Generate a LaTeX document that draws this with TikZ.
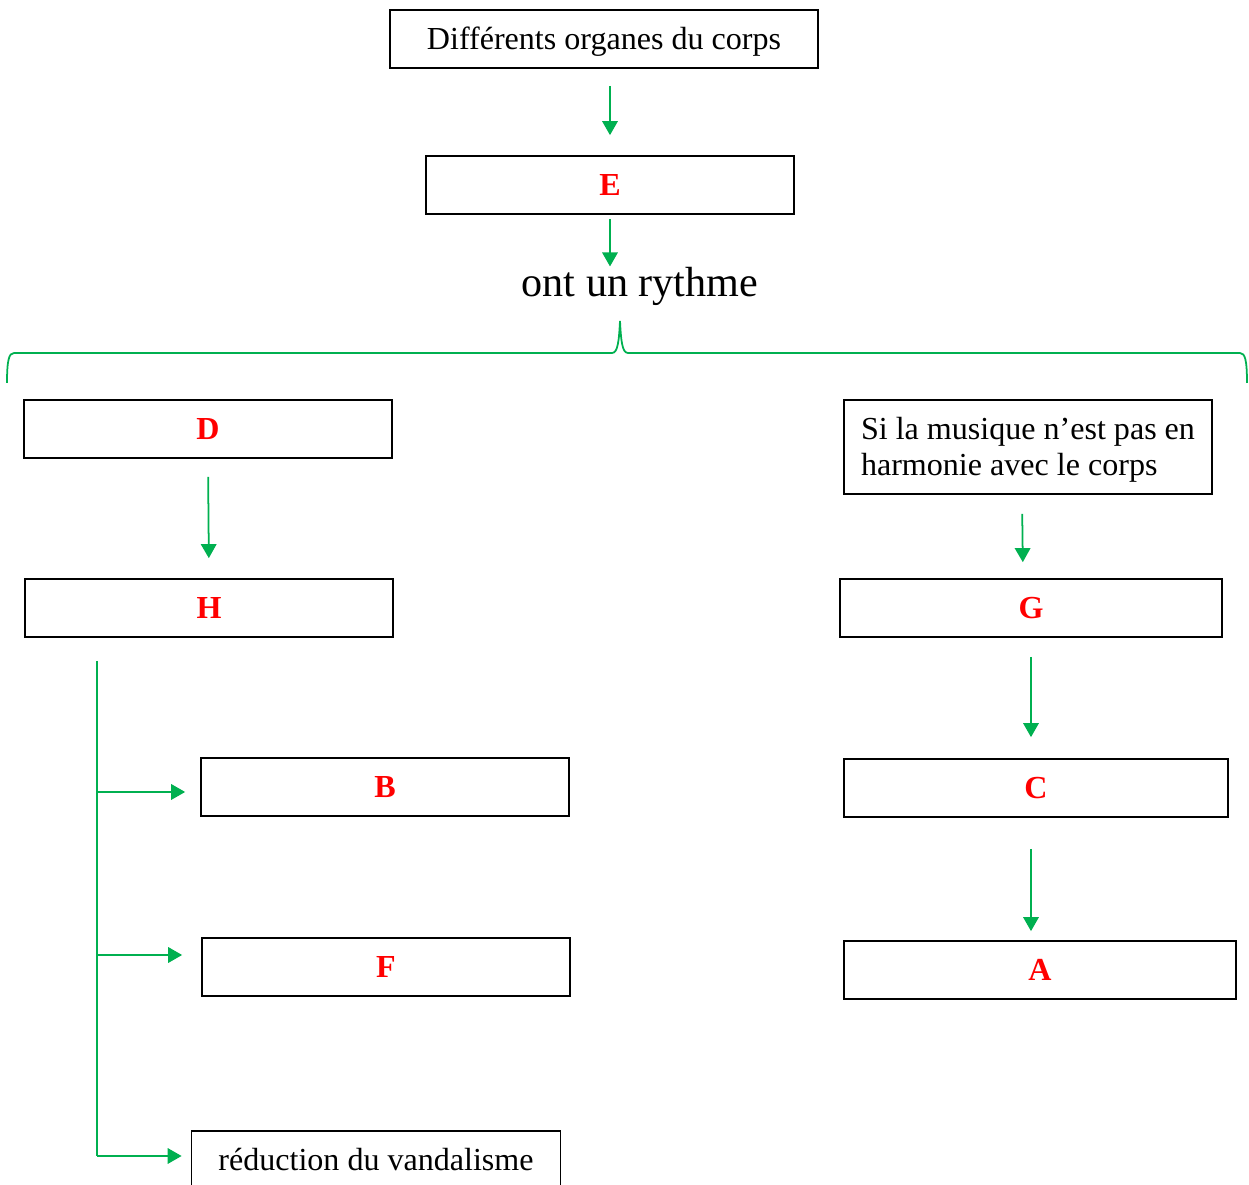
\documentclass[tikz,border=0pt]{standalone}
\usepackage{fontspec}
\setmainfont{Liberation Serif}
\usepackage{xcolor}
\usepackage{tikz}
\usetikzlibrary{arrows.meta,positioning}

\begin{document}
\begin{tikzpicture}[x=0.02cm,y=-0.02cm,font=\fontsize{18.25}{20.5}\selectfont,
    box/.style={draw,line width=1pt,minimum width=7.36cm,minimum height=1.16cm,inner sep=0pt,
      text height=0.42cm,text depth=0pt},
    key/.style={box,text=cRed,font=\fontsize{18.25}{20.5}\selectfont\bfseries},
    flow/.style={cG,line width=1pt,-{Triangle[length=0.28cm,width=0.31cm]}},
    link/.style={cG,line width=1pt}]
      \definecolor{cG}{RGB}{0,176,80}
      \definecolor{cRed}{RGB}{255,0,0}
      \clip (0,0) rectangle (1249,1185);
      % top of the chart
      \node[box,minimum width=8.56cm] (organes) at (604,39) {Différents organes du corps};
      \node[key] (E) at (610,185) {E};
      \node[font=\fontsize{24}{28}\selectfont,inner sep=0pt] (rythme) at (640,286) {ont un rythme};
      \draw[flow,shorten <=0.34cm,shorten >=0.4cm] (organes.south -| E.north) -- (E.north);
      \draw[flow,shorten <=0.08cm] (E.south) -- (E.south |- rythme.north);
      % brace
      \draw[link] (7,383) .. controls (7,360) and (9,353) .. (14,353) -- (612,353)
        .. controls (618,353) and (619,340) .. (620,321)
        .. controls (621,340) and (622,353) .. (628,353) -- (1240,353)
        .. controls (1245,353) and (1247,360) .. (1247,383);
      % left branch
      \node[key] (D) at (208,429) {D};
      \node[key] (H) at (209,608) {H};
      \node[key] (B) at (385,787) {B};
      \node[key] (F) at (386,967) {F};
      \node[box,minimum width=7.38cm] (reduction) at (376,1160) {réduction du vandalisme};
      \draw[flow,shorten <=0.36cm,shorten >=0.4cm] (D.south) -- (H.north);
      \coordinate (trunk) at ([xshift=1.46cm,yshift=-0.46cm]H.south west);
      \coordinate (toB) at ([yshift=-0.1cm]B.west);
      \coordinate (toF) at ([yshift=0.24cm]F.west);
      \coordinate (toRed) at ([yshift=0.08cm]reduction.west);
      \draw[link] (trunk) -- (trunk |- toRed);
      \draw[flow,shorten >=0.3cm] (trunk |- toB) -- (toB);
      \draw[flow,shorten >=0.38cm] (trunk |- toF) -- (toF);
      \draw[flow,shorten >=0.18cm] (trunk |- toRed) -- (toRed);
      % right branch
      \node[box,align=left,minimum height=1.88cm,text height=1.16cm] (harmonie) at (1028,447) {Si la musique n’est pas en\\harmonie avec le corps};
      \node[key,minimum width=7.64cm] (G) at (1031,608) {G};
      \node[key,minimum width=7.68cm] (C) at (1036,788) {C};
      \node[key,minimum width=7.84cm] (A) at (1040,970) {A};
      \draw[flow,shorten <=0.38cm,shorten >=0.32cm] ([xshift=-0.12cm]harmonie.south) -- ([xshift=-0.16cm]G.north);
      \draw[flow,shorten <=0.38cm,shorten >=0.42cm] (G.south) -- (G.south |- C.north);
      \draw[flow,shorten <=0.62cm,shorten >=0.18cm] ([xshift=-0.1cm]C.south) -- ([xshift=-0.1cm]C.south |- A.north);
    \end{tikzpicture}
\end{document}
